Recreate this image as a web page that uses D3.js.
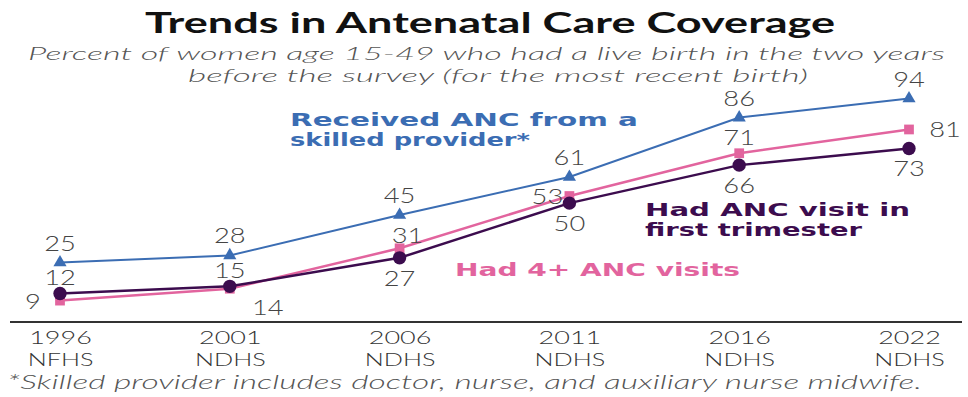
<!DOCTYPE html>
<html>
<head>
<meta charset="utf-8">
<script src="https://cdn.jsdelivr.net/npm/d3@7"></script>
<style>
  html, body { margin: 0; padding: 0; background: #fff; }
  svg { display: block; }
</style>
</head>
<body>
<svg id="chart" width="968" height="397"></svg>
<script>
// Survey rounds shown along the x axis
const years = ["1996", "2001", "2006", "2011", "2016", "2022"];
const surveys = ["NFHS", "NDHS", "NDHS", "NDHS", "NDHS", "NDHS"];

// Percent of women with a live birth in the two years before the survey
const skilledProvider = [25, 28, 45, 61, 86, 94];
const fourPlusVisits = [9, 14, 31, 53, 71, 81];
const firstTrimester = [12, 15, 27, 50, 66, 73];

const svg = d3.select("#chart");
const FONT = "Lato, 'Open Sans', 'DejaVu Sans', sans-serif";
const BOLD_FONT = "'DejaVu Sans', Lato, sans-serif";

const x = d3.scalePoint().domain(years).range([60, 909]);
const y = d3.scaleLinear().domain([0, 100]).range([322, 84.3]);

// Text helper: forced width for the wide lettering
function txt(g, s, px, py, opts) {
  const t = g.append("text")
    .attr("x", px).attr("y", py)
    .attr("font-family", opts.family || FONT)
    .attr("font-size", opts.size)
    .attr("font-weight", opts.weight || "normal")
    .attr("font-style", opts.style || "normal")
    .attr("fill", opts.fill || "#444")
    .attr("text-anchor", opts.anchor || "start")
    .text(s);
  if (opts.width) {
    t.attr("textLength", opts.width).attr("lengthAdjust", "spacingAndGlyphs");
  } else if (opts.stretch) {
    const w = t.node().getComputedTextLength();
    t.attr("textLength", w * opts.stretch).attr("lengthAdjust", "spacingAndGlyphs");
  }
  return t;
}

// Title and subtitle
txt(svg, "Trends in Antenatal Care Coverage", 145, 33,
  { size: 28, weight: "bold", fill: "#111", width: 690 });
txt(svg, "Percent of women age 15-49 who had a live birth in the two years", 28, 60,
  { size: 18, style: "italic", fill: "#555", width: 917, weight: 300 });
txt(svg, "before the survey (for the most recent birth)", 188, 82,
  { size: 18, style: "italic", fill: "#555", width: 620, weight: 300 });

// Baseline across the full width
svg.append("line")
  .attr("x1", 10).attr("x2", 962)
  .attr("y1", y(0)).attr("y2", y(0))
  .attr("stroke", "#333").attr("stroke-width", 2);

// Category axis with two-line labels (year over survey name)
const axis = svg.append("g")
  .attr("transform", `translate(0,${y(0)})`)
  .call(d3.axisBottom(x).tickSize(0).tickFormat(""));
axis.select(".domain").remove();
axis.selectAll(".tick").each(function (d, i) {
  const g = d3.select(this);
  txt(g, d, 0, 22, { size: 18, weight: 300, fill: "#333", anchor: "middle", stretch: 1.5 });
  txt(g, surveys[i], 0, 44, { size: 18, weight: 300, fill: "#333", anchor: "middle", stretch: 1.4 });
});

// Label offsets (dx, dy) relative to each marker
const offsets = {
  top: [0, -12], above: [0, -8], below: [0, 28],
  left: [-27, 8], right: [36, 8], belowRight: [38, 26], aboveRight: [8, -5], leftLow: [-22, 8]
};

const series = [
  { values: fourPlusVisits, color: "#e2649e", width: 2.5, symbol: d3.symbolSquare, size: 95,
    sides: ["left", "belowRight", "aboveRight", "leftLow", "above", "right"] },
  { values: firstTrimester, color: "#3c0c4e", width: 2.5, symbol: d3.symbolCircle, size: 140,
    sides: ["above", "above", "below", "below", "below", "below"] },
  { values: skilledProvider, color: "#3b6db3", width: 2, symbol: d3.symbolTriangle, size: 75,
    sides: ["top", "top", "top", "top", "top", "top"] }
];

const line = d3.line().x((d, i) => x(years[i])).y(d => y(d));

series.forEach(s => {
  svg.append("path")
    .datum(s.values)
    .attr("d", line)
    .attr("fill", "none")
    .attr("stroke", s.color)
    .attr("stroke-width", s.width);
  svg.append("g").selectAll("path")
    .data(s.values)
    .join("path")
    .attr("d", d3.symbol(s.symbol, s.size))
    .attr("transform", (d, i) => `translate(${x(years[i])},${y(d)})`)
    .attr("fill", s.color);
});

// Value labels
const labels = svg.append("g");
series.forEach(s => {
  s.values.forEach((v, i) => {
    const [dx, dy] = offsets[s.sides[i]];
    txt(labels, v, x(years[i]) + dx, y(v) + dy,
      { size: 21, weight: 300, fill: "#444", anchor: "middle", stretch: 1.3 });
  });
});

// Series names
const nameStyle = { family: BOLD_FONT, size: 17, weight: "bold" };
txt(svg, "Received ANC from a", 290, 126, { ...nameStyle, fill: "#3b6db3", width: 348 });
txt(svg, "skilled provider*", 290, 146, { ...nameStyle, fill: "#3b6db3", width: 240 });
txt(svg, "Had ANC visit in", 645, 216, { ...nameStyle, fill: "#3c0c4e", width: 265 });
txt(svg, "first trimester", 645, 236, { ...nameStyle, fill: "#3c0c4e", width: 217 });
txt(svg, "Had 4+ ANC visits", 455, 276, { ...nameStyle, fill: "#e2649e", width: 285 });

// Footnote
txt(svg, "*Skilled provider includes doctor, nurse, and auxiliary nurse midwife.", 7, 389,
  { size: 20, style: "italic", weight: 300, fill: "#555", width: 915 });
</script>
</body>
</html>
